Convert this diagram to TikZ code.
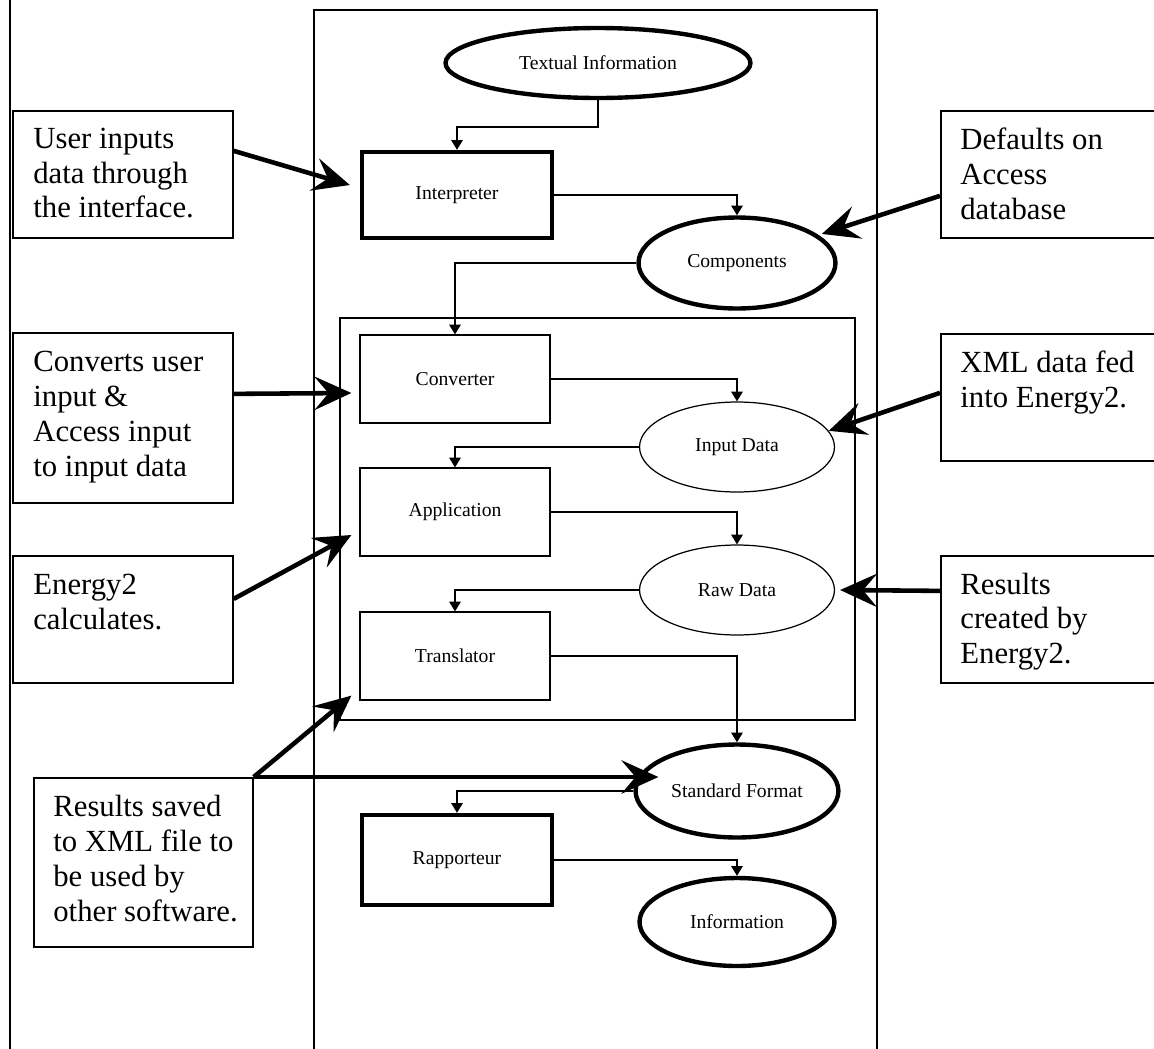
\documentclass[tikz,border=0pt]{standalone}
\usepackage{fontspec}
\setmainfont{Liberation Serif}
\usetikzlibrary{arrows.meta}
\usetikzlibrary{shapes.geometric}
\usetikzlibrary{positioning}

\begin{document}
\begin{tikzpicture}[x=0.02cm,y=-0.02cm]
  \tikzset{
    flow/.style={-{Triangle[length=5.5pt,width=6.5pt]}, line width=0.8pt},
    pointer/.style={-{Stealth[length=21pt,width=19pt,inset=8pt]}, line width=2.6pt},
    proc/.style={draw, rectangle, minimum width=3.8cm, minimum height=1.76cm, line width=0.7pt, font=\fontsize{11.2}{13}\selectfont},
    store/.style={draw, ellipse, minimum width=3.9cm, minimum height=1.8cm, line width=0.7pt, font=\fontsize{11.2}{13}\selectfont},
    heavy/.style={line width=2.5pt},
    note/.style={draw, rectangle, line width=1pt, anchor=north west, minimum width=4.4cm, minimum height=2.54cm},
    notetext/.style={inner sep=0pt, align=left, font=\fontsize{17.5}{19.8}\selectfont},
  }
  \useasboundingbox (0,0) rectangle (1154,1049);
  \draw[line width=1pt] (10,0) -- (10,1049);
  \draw[line width=1pt] (314,1049) -- (314,10) -- (877,10) -- (877,1049);
  \draw[line width=0.8pt] (340,318) rectangle (855,720);

  \node[store, heavy, minimum width=6.1cm, minimum height=1.4cm] (txt) at (598,63) {Textual Information};
  \node[proc, heavy, minimum height=1.72cm] (interp) at (457,195) {Interpreter};
  \node[store, heavy, minimum width=3.94cm, minimum height=1.82cm] (comp) at (737,263) {Components};
  \node[proc] (conv) at (455,379) {Converter};
  \node[store] (inp) at (737,447) {Input Data};
  \node[proc] (app) at (455,512) {Application};
  \node[store] (raw) at (737,590) {Raw Data};
  \node[proc] (trans) at (455,656) {Translator};
  \node[store, heavy, minimum height=1.86cm] (std) at (737,791) {Standard Format};
  \node[proc, heavy, minimum height=1.8cm] (rap) at (457,860) {Rapporteur};
  \node[store, heavy, minimum height=1.76cm] (info) at (737,922) {Information};

  \draw[flow] (txt.south) -- ++(0,27) -| (interp.north);
  \draw[flow] (interp.east) -| (comp.north);
  \draw[flow] (comp.west) -| (conv.north);
  \draw[flow] (conv.east) -| (inp.north);
  \draw[flow] (inp.west) -| (app.north);
  \draw[flow] (app.east) -| (raw.north);
  \draw[flow] (raw.west) -| (trans.north);
  \draw[flow] (trans.east) -| (std.north);
  \draw[flow] (std.west) -| (rap.north);
  \draw[flow] (rap.east) -| (info.north);

  \node[note] (n1) at (12,110) {};
  \node[notetext, below right=0.35cm and 0.42cm of n1.north west] (t1) {User inputs\\data through\\the interface.};
  \node[note, minimum height=3.4cm] (n2) at (12,332) {};
  \node[notetext, below right=0.38cm and 0.42cm of n2.north west] (t2) {Converts user\\input \&\\Access input\\to input data};
  \node[note] (n3) at (12,555) {};
  \node[notetext, below right=0.38cm and 0.42cm of n3.north west] (t3) {Energy2\\calculates.};
  \node[note, minimum width=4.38cm, minimum height=3.38cm] (n4) at (33,777) {};
  \node[notetext, below right=0.36cm and 0.4cm of n4.north west] (t4) {Results saved\\to XML file to\\be used by\\other software.};
  \node[note] (n5) at (940,110) {};
  \node[notetext, below right=0.35cm and 0.4cm of n5.north west] (t5) {Defaults on\\Access\\database};
  \node[note] (n6) at (940,333) {};
  \node[notetext, below right=0.35cm and 0.4cm of n6.north west] (t6) {XML data fed\\into Energy2.};
  \node[note] (n7) at (940,555) {};
  \node[notetext, below right=0.35cm and 0.4cm of n7.north west] (t7) {Results\\created by\\Energy2.};

  \draw[pointer] ([yshift=0.47cm]n1.east) -- ([xshift=-0.2cm,yshift=0.2cm]interp.west);
  \draw[pointer] ([yshift=0.48cm]n2.east) -- ([xshift=-0.16cm,yshift=-0.28cm]conv.west);
  \draw[pointer] ([yshift=0.41cm]n3.east) -- ([xshift=-0.16cm,yshift=-0.46cm]app.west);
  \draw[pointer] (n4.north east) -- ([xshift=-0.16cm,yshift=0.1cm]trans.south west);
  \draw[pointer, shorten >=-0.5cm] (n4.north east) -- (n4.north east -| std.west);
  \draw[pointer] ([yshift=-0.43cm]n5.west) -- ([xshift=0.1cm]comp.20);
  \draw[pointer] ([yshift=0.09cm]n6.west) -- (inp.10);
  \draw[pointer] ([yshift=0.57cm]n7.west) -- ([xshift=0.1cm]raw.east);
\end{tikzpicture}
\end{document}
